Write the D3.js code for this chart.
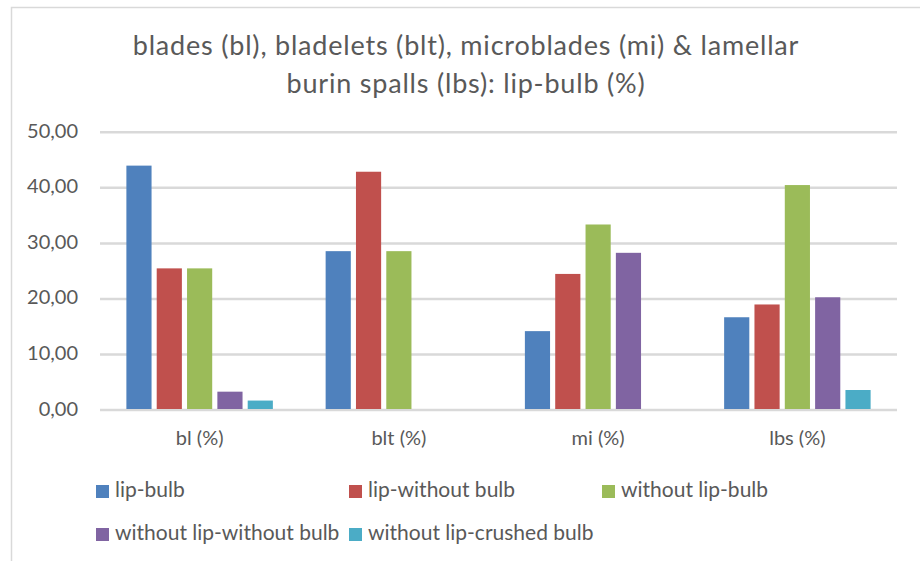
<!DOCTYPE html>
<meta charset="utf-8">
<style>
body { margin: 0; background: #fff; }
svg text { font-family: Lato, "Open Sans", sans-serif; fill: #595959; }
</style>
<body>
<svg id="chart" width="920" height="561"></svg>
<script src="https://d3js.org/d3.v7.min.js"></script>
<script>
// data
var categories = ["bl (%)", "blt (%)", "mi (%)", "lbs (%)"]
var seriesNames = ["lip-bulb", "lip-without bulb", "without lip-bulb", "without lip-without bulb", "without lip-crushed bulb"]
var seriesColors = ["#4f81bd", "#c0504d", "#9bbb59", "#8064a2", "#4bacc6"]
var lipBulb = [44.0, 28.6, 14.2, 16.7]
var lipWithoutBulb = [25.5, 42.9, 24.5, 19.0]
var withoutLipBulb = [25.5, 28.6, 33.4, 40.5]
var withoutLipWithoutBulb = [3.3, null, 28.3, 20.3]
var withoutLipCrushedBulb = [1.7, null, null, 3.6]
var yTicks = [0, 10, 20, 30, 40, 50]
var titleLines = ["blades (bl), bladelets (blt), microblades (mi) & lamellar", "burin spalls (lbs): lip-bulb (%)"]

var seriesValues = [lipBulb, lipWithoutBulb, withoutLipBulb, withoutLipWithoutBulb, withoutLipCrushedBulb]

var svg = d3.select("#chart")
var plot = {left: 100, right: 897, top: 132.3, bottom: 410}

// chart frame (only top/left edges visible)
svg.append("rect")
  .attr("x", 11.5).attr("y", 7.5)
  .attr("width", 1000).attr("height", 1000)
  .attr("fill", "none").attr("stroke", "#d9d9d9").attr("stroke-width", 1.5)

// title
svg.append("g").selectAll("text")
  .data(titleLines)
  .enter().append("text")
  .attr("x", 466)
  .attr("y", (d, i) => 55 + i * 38)
  .attr("text-anchor", "middle")
  .style("font-size", "27px")
  .style("letter-spacing", "0.8px")
  .text(d => d)

var x0 = d3.scaleBand().domain(categories).range([plot.left, plot.right]).padding(0)
var x1 = d3.scaleBand().domain(d3.range(seriesNames.length)).range([0, x0.bandwidth()])
  .paddingInner(0.17).paddingOuter(0.87)
var y = d3.scaleLinear().domain([0, 50]).range([plot.bottom, plot.top])

// gridlines
svg.append("g").selectAll("line")
  .data(yTicks)
  .enter().append("line")
  .attr("x1", plot.left).attr("x2", plot.right)
  .attr("y1", d => y(d)).attr("y2", d => y(d))
  .attr("stroke", "#d9d9d9").attr("stroke-width", 2.5)

var fmt = d3.formatLocale({decimal: ",", thousands: ".", grouping: [3], currency: ["", ""]}).format(".2f")

var yAxis = svg.append("g")
  .attr("transform", "translate(" + plot.left + ",0)")
  .call(d3.axisLeft(y).tickValues(yTicks).tickSize(0).tickPadding(22).tickFormat(fmt))
yAxis.select(".domain").remove()
yAxis.selectAll("text").attr("dy", "0.25em").style("font-size", "20px").attr("fill", "#595959").style("font-family", null)

var xAxis = svg.append("g")
  .attr("transform", "translate(0," + plot.bottom + ")")
  .call(d3.axisBottom(x0).tickSize(0).tickPadding(21))
xAxis.select(".domain").remove()
xAxis.selectAll("text").style("font-size", "20px").attr("fill", "#595959").style("font-family", null)

// bars
var rows = []
categories.forEach(function (c, ci) {
  seriesValues.forEach(function (vals, si) {
    if (vals[ci] != null) rows.push({cat: c, s: si, v: vals[ci]})
  })
})

svg.append("g").selectAll("rect")
  .data(rows)
  .enter().append("rect")
  .attr("x", d => x0(d.cat) + x1(d.s))
  .attr("width", x1.bandwidth())
  .attr("y", d => y(d.v))
  .attr("height", d => y(0) - y(d.v) - 1)
  .attr("fill", d => seriesColors[d.s])

// legend
var legend = svg.append("g").selectAll("g")
  .data(seriesNames)
  .enter().append("g")
  .attr("transform", (d, i) => "translate(" + (96 + (i % 3) * 253) + "," + (485 + Math.floor(i / 3) * 43) + ")")

legend.append("rect")
  .attr("width", 13).attr("height", 13)
  .attr("fill", (d, i) => seriesColors[i])

legend.append("text")
  .attr("x", 19).attr("y", 12)
  .style("font-size", "21px")
  .text(d => d)
</script>
</body>
